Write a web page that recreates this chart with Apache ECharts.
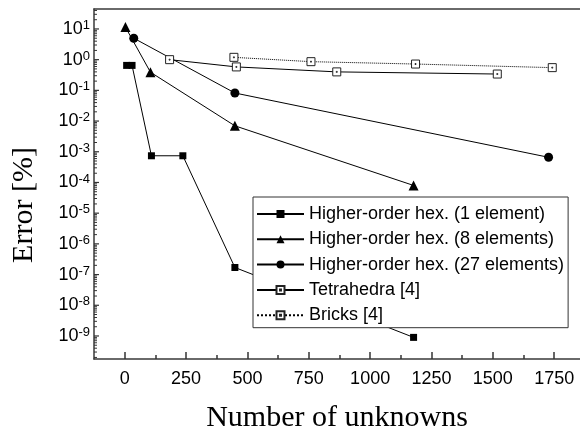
<!DOCTYPE html>
<html>
<head>
<meta charset="utf-8">
<script src="https://cdn.jsdelivr.net/npm/echarts@6/dist/echarts.min.js"></script>
<style>html,body{margin:0;padding:0;background:#fff;}#c{width:580px;height:431px;}</style>
</head>
<body>
<div id="c"></div>
<script>
// ---- data ----
const hex1 = [[8, 0.65], [30, 0.65], [109, 7.4e-4], [237, 7.4e-4], [449, 1.7e-7], [1177, 9e-10]];
const hex8 = [[3, 11.5], [105, 0.39], [449, 7.0e-3], [1177, 8e-5]];
const hex27 = [[37, 5.0], [449, 0.082], [1727, 6.6e-4]];
const tetra = [[183, 1.0], [455, 0.58], [864, 0.40], [1518, 0.34]];
const bricks = [[445, 1.19], [759, 0.86], [1185, 0.72], [1742, 0.55]];
const seriesNames = ['Higher-order hex. (1 element)', 'Higher-order hex. (8 elements)', 'Higher-order hex. (27 elements)', 'Tetrahedra [4]', 'Bricks [4]'];
const xTicks = [0, 250, 500, 750, 1000, 1250, 1500, 1750];
const xMinorTicks = [125, 375, 625, 875, 1125, 1375, 1625];
const yExponents = [-9, -8, -7, -6, -5, -4, -3, -2, -1, 0, 1];
const xMin = -125, xMax = 1855;
const yMinExp = -9.75, yMaxExp = 1.65;

// ---- derived ----
const yMin = Math.pow(10, yMinExp), yMax = Math.pow(10, yMaxExp);
const yTicks = yExponents.map(e => Math.pow(10, e));
const yMinor = [];
for (let e = -10; e <= 1; e++) {
  for (let k = 2; k <= 9; k++) {
    const v = k * Math.pow(10, e);
    if (v > yMin && v < yMax) yMinor.push(v);
  }
}
const yBase = yMin * 1.002;                 // just inside the bottom edge
const majorTop = yMin * Math.pow(10, 0.23); // tick heights in decades
const minorTop = yMin * Math.pow(10, 0.13);
const openSq = 'path://M0,0L10,0L10,10L0,10Z M4.4,4.4L5.6,4.4L5.6,5.6L4.4,5.6Z';
const axisColor = '#3a3a3a';
const sans = 'Liberation Sans, Arial, sans-serif';
const serif = 'Liberation Serif, Times New Roman, serif';

const chart = echarts.init(document.getElementById('c'), null, {renderer: 'canvas'});
const baseLine = {color: '#000', width: 1};
function mk(name, data, symbol, size, extra) {
  return Object.assign({
    name: name, type: 'line', data: data, symbol: symbol, symbolSize: size,
    xAxisIndex: 0, yAxisIndex: 0,
    lineStyle: Object.assign({}, baseLine), itemStyle: {color: '#000'},
    animation: false, emphasis: {disabled: true}, z: 3
  }, extra || {});
}
// y tick marks drawn through the axes' own scales
function yTickSeries(data, len, width) {
  return {
    type: 'custom', coordinateSystem: 'cartesian2d', xAxisIndex: 0, yAxisIndex: 0,
    clip: false, silent: true, z: 10,
    animation: false, tooltip: {show: false},
    data: data,
    renderItem: function (params, api) {
      const cs = params.coordSys;
      const p = api.coord([api.value(0), api.value(1)]);
      return {type: 'rect', shape: {x: cs.x, y: p[1] - width / 2, width: len, height: width}, style: {fill: '#333'}};
    }
  };
}
const xTickLines = xTicks.map(v => [{coord: [v, yBase]}, {coord: [v, majorTop]}])
  .concat(xMinorTicks.map(v => [{coord: [v, yBase]}, {coord: [v, minorTop]}]));

chart.setOption({
  animation: false,
  grid: {left: 94, right: 0, top: 9, bottom: 72, containLabel: false, outerBoundsMode: 'none'},
  legend: {
    orient: 'vertical', left: 253, top: 197,
    padding: [7.5, 4, 3, 3], itemGap: 6.3, itemWidth: 47, itemHeight: 10,
    borderColor: '#333', borderWidth: 1, backgroundColor: '#fff',
    selectedMode: false,
    textStyle: {fontFamily: sans, fontSize: 18, color: '#000', lineHeight: 19, padding: [0, 0, 0, 0]},
    data: seriesNames
  },
  xAxis: [
    {
      type: 'value', position: 'bottom', min: xMin, max: xMax,
      axisLine: {show: true, onZero: false, lineStyle: {color: axisColor, width: 1.5}},
      axisTick: {show: false},
      axisLabel: {show: true, customValues: xTicks, margin: 11, fontFamily: sans, fontSize: 18, color: '#000',
        formatter: function (v) { return String(v); }},
      splitLine: {show: false},
      name: 'Number of unknowns', nameLocation: 'middle', nameGap: 44,
      nameTextStyle: {fontFamily: serif, fontSize: 30, color: '#000'}
    },
    {
      type: 'value', position: 'top', min: xMin, max: xMax,
      axisLine: {show: true, onZero: false, lineStyle: {color: axisColor, width: 1.5}},
      axisTick: {show: false}, axisLabel: {show: false}, splitLine: {show: false}
    }
  ],
  yAxis: [
    {
      type: 'log', position: 'left', logBase: 10, min: yMin, max: yMax,
      axisLine: {show: true, onZero: false, lineStyle: {color: axisColor, width: 1.5}},
      axisTick: {show: false},
      axisLabel: {
        show: true, customValues: yTicks, margin: 4,
        formatter: function (v) {
          const e = Math.round(Math.log10(v));
          return '{b|10}{s|' + e + '}';
        },
        rich: {
          b: {fontFamily: sans, fontSize: 18, color: '#000', lineHeight: 20},
          s: {fontFamily: sans, fontSize: 13, color: '#000', verticalAlign: 'top', lineHeight: 14}
        }
      },
      splitLine: {show: false}
    }
  ],
  graphic: [
    {
      type: 'text', x: 24, y: 205, rotation: Math.PI / 2,
      style: {text: 'Error [%]', font: '30px ' + serif, fill: '#000', textAlign: 'center', textVerticalAlign: 'middle'}
    }
  ],
  series: [
    mk(seriesNames[0], hex1, 'rect', 7, {
      markLine: {
        silent: true, symbol: ['none', 'none'], animation: false,
        label: {show: false}, emphasis: {disabled: true},
        lineStyle: {color: '#333', width: 1.5, type: 'solid'},
        data: xTickLines
      }
    }),
    mk(seriesNames[1], hex8, 'triangle', 10),
    mk(seriesNames[2], hex27, 'circle', 9),
    mk(seriesNames[3], tetra, openSq, 8, {itemStyle: {color: '#fff', borderColor: '#222', borderWidth: 1}}),
    mk(seriesNames[4], bricks, openSq, 8, {lineStyle: {color: '#000', width: 1, type: 'dotted'}, itemStyle: {color: '#fff', borderColor: '#222', borderWidth: 1}}),
    yTickSeries(yTicks.map(v => [500, v]), 5, 1.2),
    yTickSeries(yMinor.map(v => [500, v]), 3, 1)
  ]
});
</script>
</body>
</html>
